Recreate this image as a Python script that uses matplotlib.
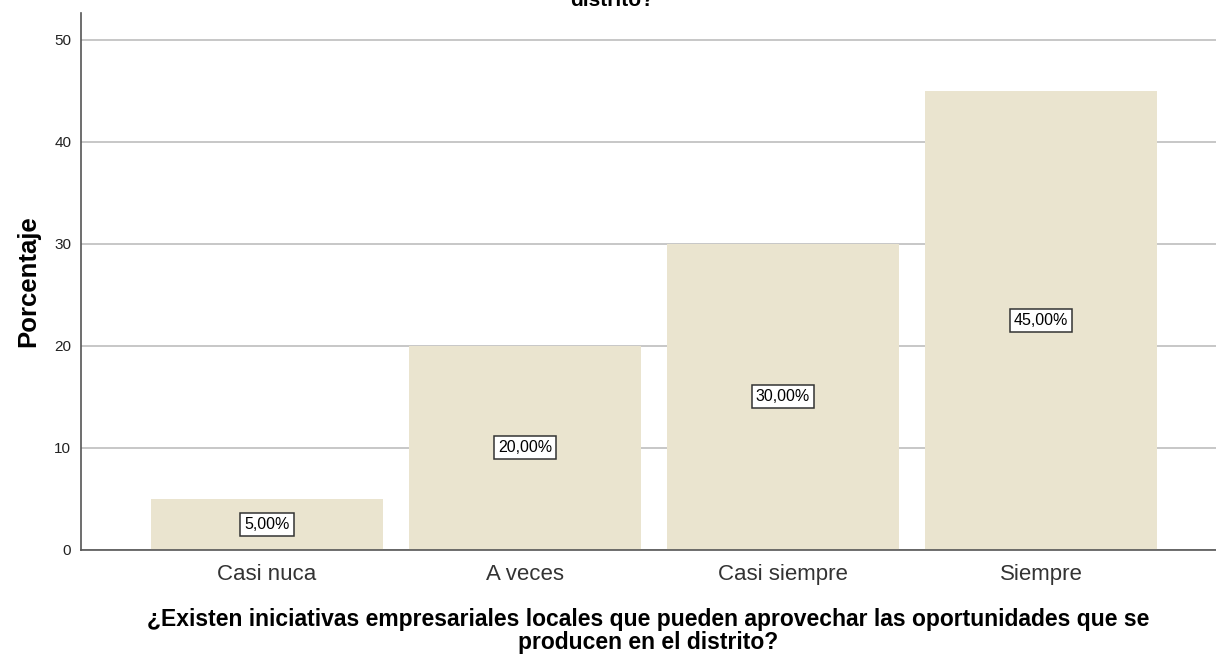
#!/usr/bin/env python3
# -*- coding: utf-8 -*-
""" Bar chart of responses (percentages) """

import numpy as np
from matplotlib import pyplot as plt

plt.rcParams['font.family'] = ['Liberation Sans', 'DejaVu Sans']

categorias = ["Casi nuca", "A veces", "Casi siempre", "Siempre"]
porcentajes = [5.0, 20.0, 30.0, 45.0]
etiquetas = ["5,00%", "20,00%", "30,00%", "45,00%"]
yticks = [0, 10, 20, 30, 40, 50]

c_bar = "#EAE4CF"
c_grid = "#BDBDBD"

fig = plt.figure(figsize=(12.16, 6.56), dpi=100)
ax = fig.add_axes([0.0666, 0.1616, 0.9334, 0.8186])

x = np.arange(len(categorias))
ax.bar(x, porcentajes, width=0.9, color=c_bar, zorder=2)

# value labels in a box, half way up each bar
for xi, v, lab in zip(x, porcentajes, etiquetas):
    ax.text(xi, v / 2, lab, ha='center', va='center', fontsize=11.5,
            color='black', zorder=3,
            bbox=dict(boxstyle='square,pad=0.25', fc='white', ec='#333333',
                      lw=1.1))

ax.set_xlim(-0.721, 3.678)
ax.set_ylim(0, 52.6)
ax.set_yticks(yticks)
ax.set_yticklabels([str(t) for t in yticks], fontsize=11, color='#222222')
ax.set_xticks(x)
ax.set_xticklabels(categorias, fontsize=16, color='#333333')
ax.tick_params(axis='both', length=0)
ax.tick_params(axis='y', pad=7)
ax.tick_params(axis='x', pad=10)

ax.yaxis.grid(True, color=c_grid, lw=1.2, zorder=1)
ax.set_axisbelow(True)

for s in ['top', 'right']:
    ax.spines[s].set_visible(False)
ax.spines['left'].set_color('#555555')
ax.spines['bottom'].set_color('#555555')
ax.spines['left'].set_linewidth(1.2)
ax.spines['bottom'].set_linewidth(1.2)

ax.set_ylabel("Porcentaje", fontsize=18.5, fontweight='bold', labelpad=10)
ax.set_xlabel("¿Existen iniciativas empresariales locales que pueden "
              "aprovechar las oportunidades que se\nproducen en el distrito?",
              fontsize=16.5, fontweight='bold', labelpad=17, linespacing=0.95)

# last line of a title that runs off the top of the figure
fig.text(0.503, 1 - 6 / 656, "distrito?", ha='center', va='baseline',
         fontsize=15, fontweight='bold')

fig.savefig("out.png", dpi=100)
